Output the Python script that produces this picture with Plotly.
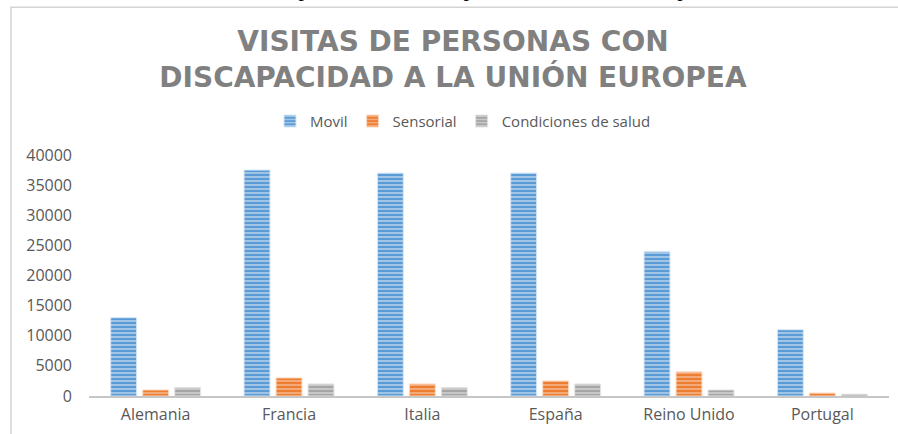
import plotly.graph_objects as go

categories = ["Alemania", "Francia", "Italia", "España", "Reino Unido", "Portugal"]
movil = [13000, 37500, 37000, 37000, 24000, 11000]
sensorial = [1000, 3000, 2000, 2500, 4000, 500]
salud = [1400, 2000, 1400, 2000, 1000, 300]
series_names = ["Movil", "Sensorial", "Condiciones de salud"]
y_ticks = [0, 5000, 10000, 15000, 20000, 25000, 30000, 35000, 40000]
title_text = "VISITAS DE PERSONAS CON<br>DISCAPACIDAD A LA UNIÓN EUROPEA"

W, H = 898, 434
PL, PR = 89, 889   # plot area left/right in px
PT, PB = 155, 398  # plot area top/bottom in px


def px_x(px):
    return (px - PL) / (PR - PL)


def px_y(py):
    return (PB - py) / (PB - PT)


styles = [
    dict(bg="#5b9bd5", fg="#bcd6ee", line="#d6e6f5"),
    dict(bg="#ed7d31", fg="#f7be96", line="#fbd9c2"),
    dict(bg="#a5a5a5", fg="#d6d6d6", line="#e4e4e4"),
]

fig = go.Figure()
for name, vals, st in zip(series_names, [movil, sensorial, salud], styles):
    fig.add_trace(go.Bar(
        name=name, x=categories, y=vals,
        marker=dict(
            color=st["bg"],
            line=dict(color=st["line"], width=1),
            pattern=dict(shape="-", fillmode="replace", bgcolor=st["bg"],
                         fgcolor=st["fg"], size=4, solidity=0.35),
        ),
    ))

tick_font = dict(family="Open Sans", size=16, color="#595959")

fig.update_layout(
    width=W, height=H,
    margin=dict(l=PL, r=W - PR, t=PT, b=H - PB, pad=0),
    paper_bgcolor="white", plot_bgcolor="white",
    barmode="group", bargap=0.28, bargroupgap=0.19,
    title=dict(
        text=title_text, x=453 / W, xanchor="center", xref="container",
        y=1 - 51 / H, yanchor="middle", yref="container",
        font=dict(family="DejaVu Sans", size=28, color="#808080", weight="bold"),
    ),
    legend=dict(
        orientation="h", x=px_x(463), xanchor="center",
        y=px_y(121), yanchor="middle",
        font=dict(family="Open Sans", size=15, color="#595959"),
        itemwidth=30, traceorder="normal",
    ),
    xaxis=dict(
        showgrid=False, showline=True, linecolor="#c6c6c6", linewidth=2,
        ticks="", tickfont=tick_font, ticklabelstandoff=3, zeroline=False,
    ),
    yaxis=dict(
        range=[0, 40000], tickvals=y_ticks, showgrid=False, showline=False,
        zeroline=False, tickfont=tick_font, ticklabelstandoff=16,
        tickformat="d",
    ),
    showlegend=True,
)

# chart area border (top and left edges visible)
fig.add_shape(type="rect", xref="paper", yref="paper",
              x0=px_x(11), x1=px_x(1000), y0=px_y(600), y1=px_y(6),
              line=dict(color="#d4d4d4", width=1.5), fillcolor="rgba(0,0,0,0)",
              layer="below")

# clipped caption from the document above the chart
fig.add_annotation(
    text="Visitas de personas con discapacidad a la Unión Europea",
    xref="paper", yref="paper", x=px_x(205), xanchor="left",
    y=px_y(-13), yanchor="middle", showarrow=False,
    font=dict(family="Liberation Serif", size=22, color="#000000"),
)

fig.write_html("out.html")
